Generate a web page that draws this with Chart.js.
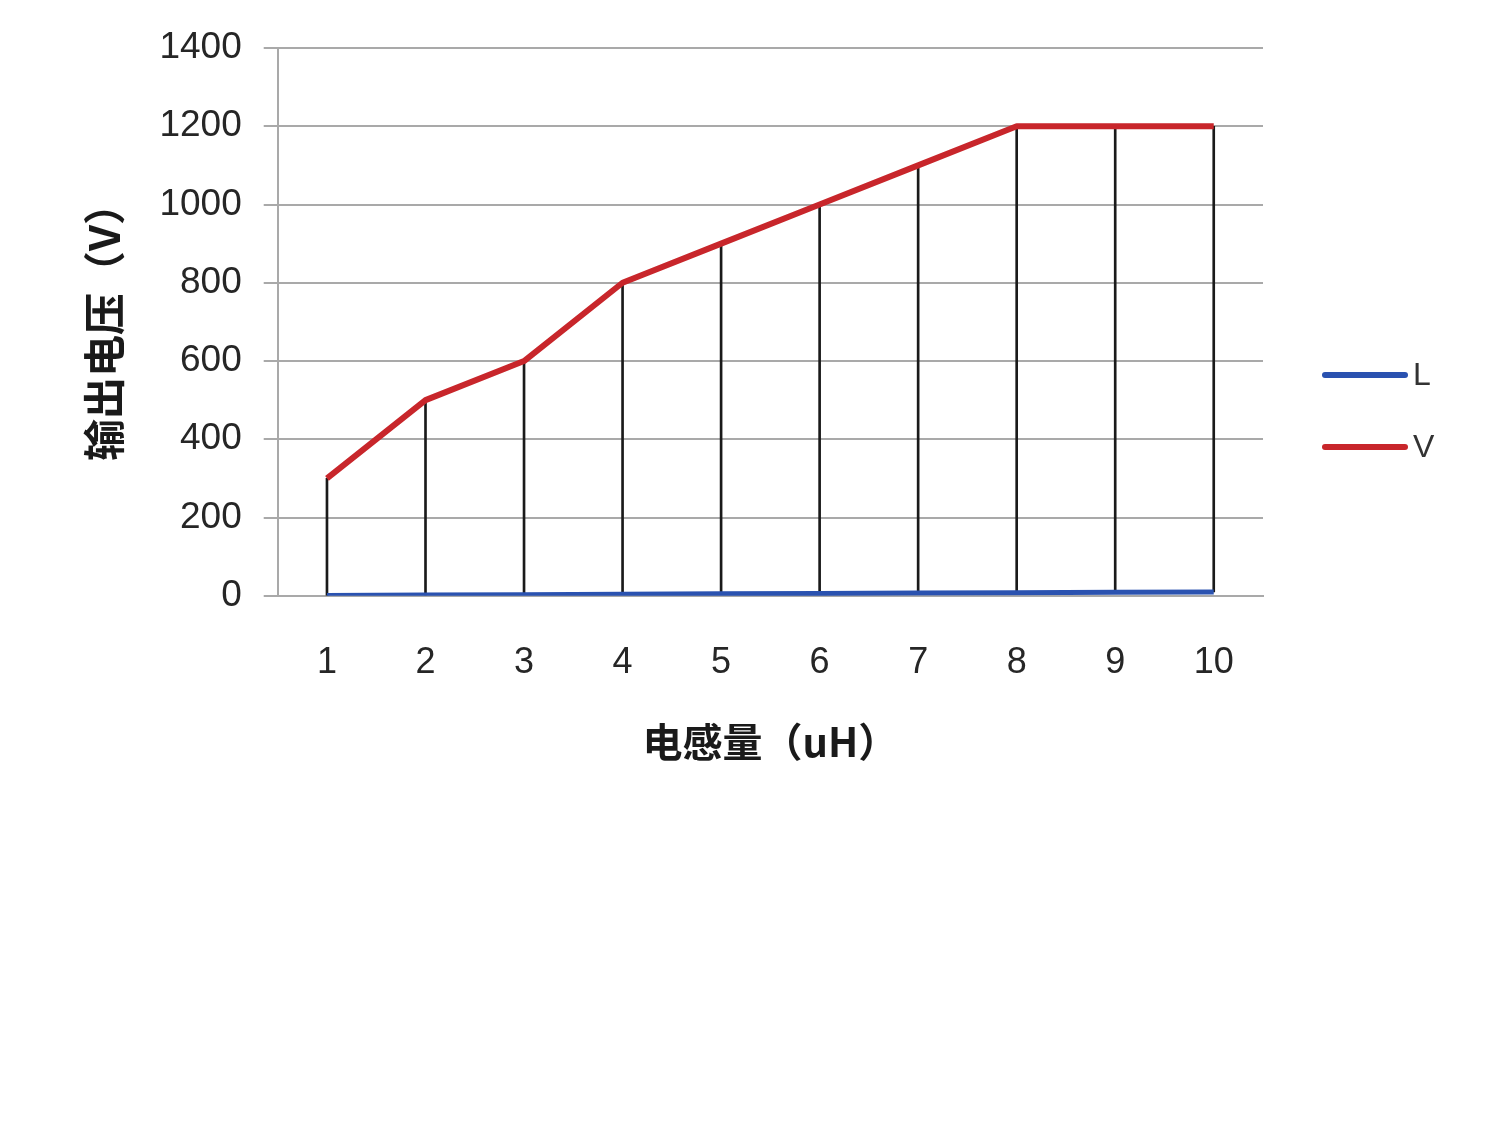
<!DOCTYPE html>
<html>
<head>
<meta charset="utf-8">
<script src="https://cdn.jsdelivr.net/npm/chart.js@4"></script>
<style>
  html, body { margin: 0; padding: 0; background: #ffffff; }
  #wrap { width: 1500px; height: 1135px; }
</style>
</head>
<body>
<div id="wrap"><canvas id="c" width="1500" height="1135"></canvas></div>
<script>
// ---- data ----
const categories = ['1', '2', '3', '4', '5', '6', '7', '8', '9', '10'];
const seriesL = [1, 2, 3, 4, 5, 6, 7, 8, 9, 10];
const seriesV = [300, 500, 600, 800, 900, 1000, 1100, 1200, 1200, 1200];
const seriesNames = ['L', 'V'];
const yAxisTitle = '输出电压（V）';
const xAxisTitle = '电感量（uH）';
const yMin = 0, yMax = 1400, yStep = 200;

// ---- styles ----
const blue = '#2a52b0';
const red = '#c8262b';
const gridGray = '#a9a9a9';
const textColor = '#262626';

const dropLines = categories.map((c, i) => [seriesL[i], seriesV[i]]);

const sideLegend = {
  id: 'sideLegend',
  afterDraw(chart) {
    const { ctx, chartArea } = chart;
    const lines = chart.data.datasets.filter(d => d.type === 'line');
    const midY = (chartArea.top + chartArea.bottom) / 2 + 89;
    const gap = 72;
    const x0 = chartArea.right + 62;
    const len = 80;
    ctx.save();
    lines.forEach((ds, i) => {
      const y = midY + (i - (lines.length - 1) / 2) * gap;
      ctx.beginPath();
      ctx.strokeStyle = ds.borderColor;
      ctx.lineWidth = 6;
      ctx.lineCap = 'round';
      ctx.moveTo(x0, y);
      ctx.lineTo(x0 + len, y);
      ctx.stroke();
      ctx.fillStyle = '#333333';
      ctx.font = '32px "Liberation Sans", Arial, sans-serif';
      ctx.textAlign = 'left';
      ctx.textBaseline = 'middle';
      ctx.fillText(ds.label, x0 + len + 8, y + 1);
    });
    ctx.restore();
  }
};

new Chart(document.getElementById('c'), {
  data: {
    labels: categories,
    datasets: [
      {
        type: 'line',
        label: seriesNames[0],
        data: seriesL,
        borderColor: blue,
        backgroundColor: blue,
        borderWidth: 5,
        pointRadius: 0,
        tension: 0,
        order: 1
      },
      {
        type: 'line',
        label: seriesNames[1],
        data: seriesV,
        borderColor: red,
        backgroundColor: red,
        borderWidth: 6,
        pointRadius: 0,
        tension: 0,
        borderJoinStyle: 'round',
        order: 0
      },
      {
        type: 'bar',
        label: 'drop',
        data: dropLines,
        backgroundColor: '#1a1a1a',
        borderWidth: 0,
        barThickness: 2,
        order: 5
      }
    ]
  },
  options: {
    responsive: false,
    animation: false,
    devicePixelRatio: 1,
    layout: { padding: { left: 79, top: 48, right: 237, bottom: 369 } },
    plugins: {
      legend: { display: false },
      tooltip: { enabled: false }
    },
    scales: {
      x: {
        type: 'category',
        offset: true,
        grid: { display: false, drawTicks: false },
        border: { display: true, color: gridGray, width: 2 },
        ticks: {
          color: textColor,
          padding: 46,
          font: { family: '"Liberation Sans", Arial, sans-serif', size: 36 }
        },
        title: {
          display: true,
          text: xAxisTitle,
          color: '#1a1a1a',
          padding: { top: -13, bottom: 0 },
          font: { family: '"Noto Sans CJK SC", sans-serif', size: 40, weight: 'bold' }
        }
      },
      y: {
        min: yMin,
        max: yMax,
        ticks: {
          stepSize: yStep,
          color: textColor,
          padding: 22,
          callback: (v) => String(v),
          font: { family: '"Liberation Sans", Arial, sans-serif', size: 37 }
        },
        grid: {
          color: gridGray,
          lineWidth: 2,
          drawTicks: true,
          tickLength: 14,
          tickColor: gridGray
        },
        border: { display: true, color: gridGray, width: 2 },
        title: {
          display: true,
          text: yAxisTitle,
          color: '#1a1a1a',
          padding: { top: 0, bottom: 8 },
          font: { family: '"Noto Sans CJK SC", sans-serif', size: 42, weight: 'bold' }
        }
      }
    }
  },
  plugins: [sideLegend]
});
</script>
</body>
</html>
